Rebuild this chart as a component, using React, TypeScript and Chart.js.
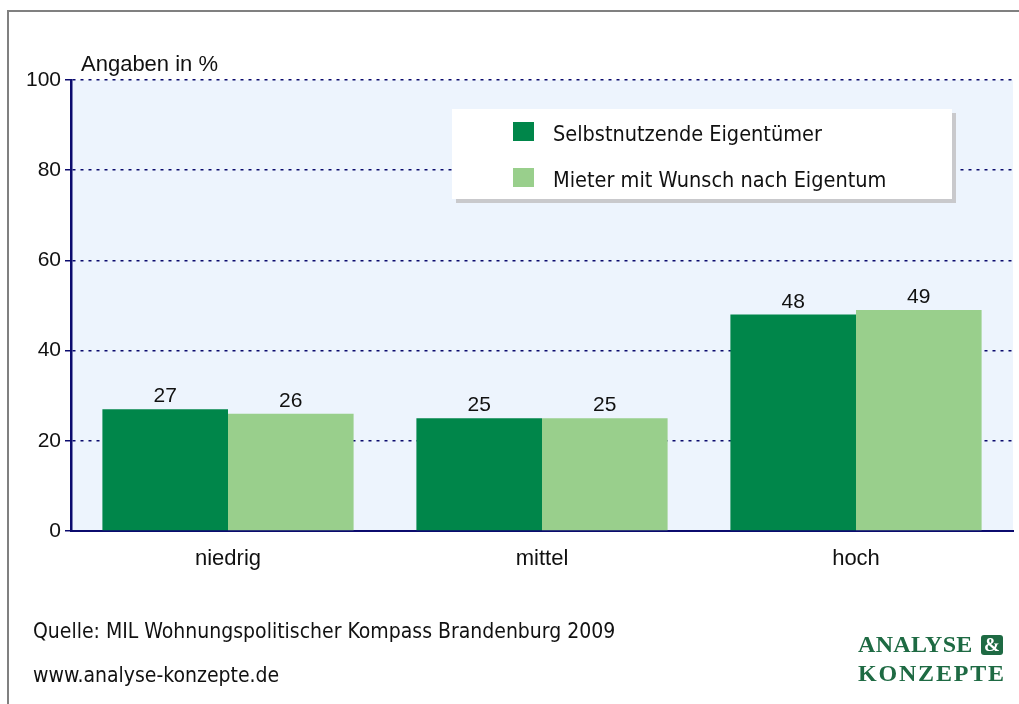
import React, { useEffect, useRef } from "react";
import { Chart, registerables } from "chart.js";

Chart.register(...registerables);

const categories = ["niedrig", "mittel", "hoch"];
const seriesNames = ["Selbstnutzende Eigentümer", "Mieter mit Wunsch nach Eigentum"];
const ownerValues = [27, 25, 48];
const tenantValues = [26, 25, 49];
const yTicks = [0, 20, 40, 60, 80, 100];
const seriesColors = ["#00864A", "#99CF8C"];
const axisTitle = "Angaben in %";
const sourceText = "Quelle: MIL Wohnungspolitischer Kompass Brandenburg 2009";
const urlText = "www.analyse-konzepte.de";
const logoLines = ["ANALYSE", "KONZEPTE"];

const SANS = '"Liberation Sans", Arial, sans-serif';
const TAHOMA = '"DejaVu Sans Condensed", "DejaVu Sans", sans-serif';
const SERIF = '"Liberation Serif", "Times New Roman", serif';
const NAVY = "#0B0B6E";

const decorPlugin = {
  id: "decor",
  beforeDraw(chart: any) {
    const { ctx, chartArea: a } = chart;
    ctx.save();
    ctx.fillStyle = "#ffffff";
    ctx.fillRect(0, 0, chart.width, chart.height);
    // outer frame
    ctx.strokeStyle = "#808080";
    ctx.lineWidth = 2;
    ctx.beginPath();
    ctx.moveTo(8, chart.height + 2);
    ctx.lineTo(8, 11);
    ctx.lineTo(chart.width + 2, 11);
    ctx.stroke();
    // plot background
    ctx.fillStyle = "#EDF4FD";
    ctx.fillRect(a.left, a.top, a.right - a.left, a.bottom - a.top);
    ctx.restore();
  },
  afterDatasetsDraw(chart: any) {
    const { ctx } = chart;
    ctx.save();
    ctx.fillStyle = "#111111";
    ctx.font = `21px ${SANS}`;
    ctx.textAlign = "center";
    ctx.textBaseline = "alphabetic";
    chart.data.datasets.forEach((ds: any, i: number) => {
      const meta = chart.getDatasetMeta(i);
      meta.data.forEach((bar: any, j: number) => {
        ctx.fillText(String(ds.data[j]), bar.x, bar.y - 7);
      });
    });
    ctx.restore();
  },
  afterDraw(chart: any) {
    const { ctx } = chart;
    ctx.save();
    // axis title
    ctx.fillStyle = "#111111";
    ctx.font = `22px ${SANS}`;
    ctx.textAlign = "left";
    ctx.textBaseline = "alphabetic";
    ctx.fillText(axisTitle, 81, 71);

    // legend box with shadow
    const bx = 452, by = 109, bw = 500, bh = 90;
    ctx.fillStyle = "#C9C9CC";
    ctx.fillRect(bx + 4, by + 4, bw, bh);
    ctx.fillStyle = "#ffffff";
    ctx.fillRect(bx, by, bw, bh);
    ctx.font = `21.5px ${TAHOMA}`;
    chart.data.datasets.forEach((ds: any, i: number) => {
      const y = by + 13 + i * 46;
      ctx.fillStyle = ds.backgroundColor;
      ctx.fillRect(bx + 61, y, 21, 19);
      ctx.fillStyle = "#111111";
      ctx.fillText(ds.label, bx + 101, y + 19);
    });

    // footer
    ctx.font = `21px ${TAHOMA}`;
    ctx.fillStyle = "#111111";
    ctx.fillText(sourceText, 33, 638);
    ctx.fillText(urlText, 33, 682);

    // logo
    const green = "#1E6A43";
    ctx.fillStyle = green;
    ctx.font = `bold 24px ${SERIF}`;
    (ctx as any).letterSpacing = "0.3px";
    ctx.fillText(logoLines[0], 858, 652);
    (ctx as any).letterSpacing = "1.8px";
    ctx.fillText(logoLines[1], 858, 681);
    (ctx as any).letterSpacing = "0px";
    // ampersand box
    const ax = 981, ay = 635, aw = 22, ah = 20, r = 3;
    ctx.beginPath();
    ctx.moveTo(ax + r, ay);
    ctx.lineTo(ax + aw - r, ay);
    ctx.quadraticCurveTo(ax + aw, ay, ax + aw, ay + r);
    ctx.lineTo(ax + aw, ay + ah - r);
    ctx.quadraticCurveTo(ax + aw, ay + ah, ax + aw - r, ay + ah);
    ctx.lineTo(ax + r, ay + ah);
    ctx.quadraticCurveTo(ax, ay + ah, ax, ay + ah - r);
    ctx.lineTo(ax, ay + r);
    ctx.quadraticCurveTo(ax, ay, ax + r, ay);
    ctx.closePath();
    ctx.fill();
    ctx.fillStyle = "#ffffff";
    ctx.font = `bold 19px ${SERIF}`;
    ctx.textAlign = "center";
    ctx.fillText("&", ax + aw / 2, ay + 16);
    ctx.restore();
  },
};

export default function App() {
  const canvasRef = useRef<HTMLCanvasElement | null>(null);

  useEffect(() => {
    const canvas = canvasRef.current;
    if (!canvas) return;
    const chart = new Chart(canvas, {
      type: "bar",
      data: {
        labels: categories,
        datasets: [
          {
            label: seriesNames[0],
            data: ownerValues,
            backgroundColor: seriesColors[0],
            borderWidth: 0,
            categoryPercentage: 0.8,
            barPercentage: 1.0,
          },
          {
            label: seriesNames[1],
            data: tenantValues,
            backgroundColor: seriesColors[1],
            borderWidth: 0,
            categoryPercentage: 0.8,
            barPercentage: 1.0,
          },
        ],
      },
      options: {
        responsive: false,
        animation: false,
        devicePixelRatio: 1,
        layout: { padding: { left: 0, top: 80, right: 6, bottom: 113 } },
        plugins: {
          legend: { display: false },
          tooltip: { enabled: false },
        },
        scales: {
          x: {
            afterFit: (s: any) => {
              s.height = 60;
            },
            grid: { display: true, drawOnChartArea: false, drawTicks: false },
            border: { display: true, color: NAVY, width: 2 },
            ticks: {
              color: "#111111",
              font: { family: SANS, size: 22 },
              padding: 15,
            },
          },
          y: {
            min: yTicks[0],
            max: yTicks[yTicks.length - 1],
            afterFit: (s: any) => {
              s.width = 71;
            },
            afterBuildTicks: (s: any) => {
              s.ticks = yTicks.map((v) => ({ value: v }));
            },
            grid: {
              color: NAVY,
              lineWidth: 1.5,
              drawTicks: true,
              tickLength: 6,
              tickColor: NAVY,
              tickWidth: 1.5,
              tickBorderDash: [],
            },
            border: { display: true, color: NAVY, width: 2.5, dash: [3, 5] },
            ticks: {
              color: "#111111",
              font: { family: SANS, size: 21 },
              padding: 4,
            },
          },
        },
      },
      plugins: [decorPlugin],
    });
    return () => chart.destroy();
  }, []);

  return (
    <div style={{ position: "absolute", left: 0, top: 0, width: 1019, height: 704 }}>
      <canvas ref={canvasRef} width={1019} height={704} style={{ display: "block" }} />
    </div>
  );
}
